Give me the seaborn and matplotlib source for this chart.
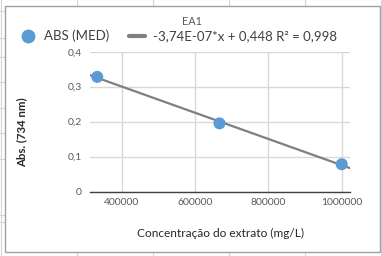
import matplotlib
matplotlib.use("Agg")
import matplotlib.pyplot as plt
from matplotlib.lines import Line2D
from matplotlib.patches import Rectangle
import seaborn as sns
import numpy as np
import pandas as pd

# ---- data ----
conc = [333333, 666667, 1000000]
abs_med = [0.328, 0.195, 0.078]
x_ticks = [400000, 600000, 800000, 1000000]
y_ticks = [0, 0.1, 0.2, 0.3, 0.4]
y_tick_labels = ["0", "0,1", "0,2", "0,3", "0,4"]
series_label = "ABS (MED)"
trend_label = "-3,74E-07*x + 0,448 R² = 0,998"
title = "EA1"
x_label = "Concentração do extrato (mg/L)"
y_label = "Abs. (734 nm)"

df = pd.DataFrame({"conc": conc, "abs": abs_med})

sns.set_theme(style="white")
plt.rcParams["font.family"] = ["Lato", "DejaVu Sans"]

W, H = 382, 256
fig = plt.figure(figsize=(W / 100, H / 100), dpi=100)
fig.patch.set_facecolor("white")

def fx(px):
    return px / W

def fy(py):
    return 1 - py / H

# spreadsheet cell lines behind the chart
cell = "#d4d4d4"
for xv in [1, 77, 153, 229, 305, 381]:
    fig.add_artist(Line2D([fx(xv), fx(xv)], [0, 1], color=cell, lw=0.8, zorder=0))
for yv in [11, 38, 57, 82, 108, 133, 159, 215, 222]:
    fig.add_artist(Line2D([0, 1], [fy(yv), fy(yv)], color=cell, lw=0.8, zorder=0))

# chart box
fig.add_artist(Rectangle((fx(4.5), fy(252)), fx(380) - fx(4.5), fy(6) - fy(252),
                         facecolor="white", edgecolor="#a0a0a0", lw=1.0, zorder=1))

ax = fig.add_axes([fx(90), fy(191.5), fx(350) - fx(90), fy(51.7) - fy(191.5)], zorder=2)
ax.set_facecolor("none")
ax.set_xlim(313500, 1022600)
ax.set_ylim(0, 0.4)

sns.regplot(data=df, x="conc", y="abs", ax=ax, scatter=False, ci=None, truncate=False,
            line_kws={"color": "#7f7f7f", "lw": 1.6, "label": trend_label, "zorder": 3})
sns.scatterplot(data=df, x="conc", y="abs", ax=ax, s=75, color="#5B9BD5",
                edgecolor="none", label=series_label, zorder=4, legend=False)
ax.set_xlim(313500, 1022600)
ax.set_ylim(0, 0.4)

ax.set_xticks(x_ticks)
ax.set_xticklabels([str(v) for v in x_ticks])
ax.set_yticks(y_ticks)
ax.set_yticklabels(y_tick_labels)
ax.grid(True, color="#d9d9d9", lw=1.0)
ax.set_axisbelow(True)
for s in ["top", "right", "left"]:
    ax.spines[s].set_visible(False)
ax.spines["bottom"].set_color("#404040")
ax.spines["bottom"].set_linewidth(1.0)
ax.tick_params(axis="both", length=0, labelsize=7.5, labelcolor="#595959")
ax.tick_params(axis="x", pad=5)
ax.tick_params(axis="y", pad=6)
ax.set_xlabel("")
ax.set_ylabel("")

fig.text(fx(220), fy(233), x_label, ha="center", va="center", fontsize=8.6, color="#262626")
fig.text(fx(22), fy(132), y_label, ha="center", va="center", rotation=90,
         fontsize=8.2, fontweight="bold", color="#262626")
fig.text(fx(192), fy(21.5), title, ha="center", va="center", fontsize=7.8, color="#595959")

h_pt = Line2D([], [], marker="o", linestyle="none", markersize=10,
              markerfacecolor="#5B9BD5", markeredgecolor="none")
h_ln = Line2D([], [], color="#7f7f7f", lw=3)
fig.legend([h_pt, h_ln], [series_label, trend_label], ncol=2, loc="center left",
           bbox_to_anchor=(fx(20), fy(36)), frameon=False, fontsize=9.5,
           handlelength=1.2, handletextpad=0.6, columnspacing=1.5,
           labelcolor="#404040", borderpad=0, borderaxespad=0)

fig.savefig("out.png", dpi=100)
